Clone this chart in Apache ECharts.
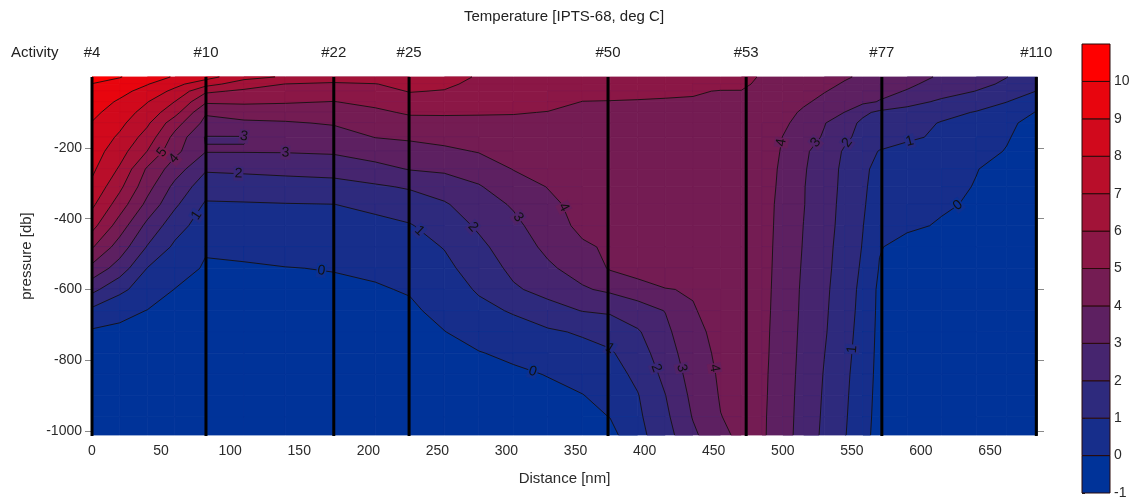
<!DOCTYPE html>
<html><head><meta charset="utf-8">
<script src="https://cdn.jsdelivr.net/npm/echarts@6/dist/echarts.min.js"></script>
<style>html,body{margin:0;padding:0;background:#fff}#c{width:1137px;height:500px}</style>
</head><body><div id="c"></div>
<script>
// ---------------- DATA ----------------
const stationNames = ['#4', '#10', '#22', '#25', '#50', '#53', '#77', '#110'];
const stationDist = [0, 82.5, 175, 229.5, 373.5, 473.5, 571.7, 683.5];
const distanceGrid = [0, 20, 40, 60, 82, 110, 140, 175, 205, 230, 255, 280, 305, 330, 355, 375, 395, 415, 435, 455, 470, 485, 500, 515, 530, 545, 558, 570, 590, 615, 640, 662, 684];
const pressureGrid = [0, 20, 40, 70, 100, 130, 170, 210, 260, 310, 360, 420, 480, 540, 600, 660, 720, 780, 840, 900, 960, 1011];
// temperature (deg C) per distance column, top to bottom at pressureGrid levels
const tempColumns = [
  [10.3, 9.98, 9.79, 9.5, 9.22, 8.96, 8.72, 8.49, 8.19, 7.79, 7.2, 6.34, 5.1, 3.71, 2.28, 0.76, -0.13, -0.41, -0.54, -0.58, -0.64, -0.7],
  [10.05, 9.65, 9.3, 8.87, 8.56, 8.25, 7.84, 7.42, 6.88, 6.23, 5.51, 4.52, 3.53, 2.55, 1.25, 0.24, -0.18, -0.42, -0.54, -0.58, -0.64, -0.7],
  [9.5, 9.05, 8.64, 8.04, 7.6, 7.17, 6.59, 5.98, 4.86, 4.36, 3.73, 2.72, 1.94, 0.98, 0.47, -0.02, -0.23, -0.43, -0.54, -0.58, -0.64, -0.7],
  [8.9, 8.3, 7.75, 6.98, 6.36, 5.43, 4.68, 4.26, 3.49, 2.72, 2.17, 1.42, 0.81, 0.41, -0.02, -0.15, -0.3, -0.45, -0.54, -0.58, -0.64, -0.7],
  [8.4, 7.37, 6.19, 5.16, 4.11, 3.73, 2.95, 3.05, 2.12, 1.44, 0.89, 0.49, 0.09, -0.09, -0.21, -0.33, -0.44, -0.56, -0.62, -0.65, -0.68, -0.7],
  [7.3, 6.5, 5.83, 5.17, 4.41, 3.84, 2.95, 3.05, 2.19, 1.49, 0.92, 0.54, 0.16, -0.07, -0.19, -0.3, -0.42, -0.54, -0.62, -0.65, -0.68, -0.7],
  [6.9, 5.98, 5.64, 5.09, 4.47, 3.91, 3.49, 3.06, 2.28, 1.56, 0.96, 0.62, 0.29, -0.02, -0.15, -0.29, -0.42, -0.55, -0.62, -0.65, -0.68, -0.7],
  [6.5, 5.86, 5.52, 4.98, 4.54, 4.08, 3.59, 3.13, 2.37, 1.64, 0.99, 0.67, 0.35, 0.03, -0.13, -0.27, -0.41, -0.55, -0.62, -0.65, -0.68, -0.7],
  [6.5, 5.97, 5.67, 5.22, 4.83, 4.48, 4.02, 3.46, 2.69, 1.87, 1.2, 0.77, 0.46, 0.15, -0.08, -0.24, -0.39, -0.55, -0.62, -0.65, -0.68, -0.7],
  [6.6, 6.3, 6.05, 5.6, 5.11, 4.7, 4.13, 3.64, 3.05, 2.1, 1.5, 0.93, 0.64, 0.36, 0.07, -0.15, -0.34, -0.54, -0.62, -0.65, -0.68, -0.7],
  [6.4, 6.2, 5.95, 5.5, 5.1, 4.76, 4.29, 3.81, 3.16, 2.48, 1.89, 1.46, 1.04, 0.77, 0.51, 0.26, -0.02, -0.2, -0.4, -0.6, -0.65, -0.7],
  [5.9, 5.73, 5.57, 5.32, 5.07, 4.8, 4.42, 4.05, 3.46, 2.92, 2.56, 2.14, 1.78, 1.44, 1.11, 0.74, 0.34, -0.04, -0.32, -0.6, -0.65, -0.7],
  [5.8, 5.65, 5.5, 5.27, 5.04, 4.84, 4.59, 4.34, 4.03, 3.57, 3.1, 2.77, 2.5, 2.23, 1.87, 1.09, 0.61, 0.17, -0.15, -0.4, -0.61, -0.7],
  [5.7, 5.55, 5.41, 5.18, 4.98, 4.84, 4.66, 4.48, 4.25, 4.03, 3.79, 3.5, 3.21, 2.85, 2.32, 1.63, 0.86, 0.44, 0.03, -0.2, -0.42, -0.6],
  [5.5, 5.35, 5.19, 4.99, 4.91, 4.84, 4.73, 4.63, 4.51, 4.38, 4.3, 4.25, 3.85, 3.39, 2.89, 2.03, 1.11, 0.68, 0.32, -0.03, -0.29, -0.5],
  [5.5, 5.33, 5.17, 4.98, 4.92, 4.86, 4.77, 4.69, 4.59, 4.49, 4.38, 4.26, 4.14, 4.09, 3.18, 2.13, 1.4, 0.88, 0.6, 0.31, 0.02, -0.3],
  [5.45, 5.29, 5.12, 4.97, 4.91, 4.85, 4.77, 4.7, 4.6, 4.5, 4.41, 4.4, 4.48, 4.5, 3.5, 2.57, 1.89, 1.56, 1.22, 0.95, 0.82, 0.7],
  [5.4, 5.24, 5.08, 4.96, 4.91, 4.85, 4.78, 4.71, 4.62, 4.52, 4.45, 4.5, 4.55, 4.6, 3.96, 3.03, 2.77, 2.52, 2.26, 1.98, 1.78, 1.6],
  [5.35, 5.19, 5.04, 4.96, 4.91, 4.86, 4.79, 4.72, 4.64, 4.55, 4.47, 4.37, 4.27, 4.17, 4.07, 3.94, 3.76, 3.59, 3.41, 3.24, 3.06, 2.8],
  [5.3, 5.15, 4.98, 4.97, 4.93, 4.9, 4.86, 4.82, 4.76, 4.71, 4.65, 4.59, 4.52, 4.46, 4.39, 4.33, 4.26, 4.2, 4.13, 4.07, 3.98, 3.8],
  [5.15, 5.07, 4.99, 4.95, 4.9, 4.86, 4.8, 4.75, 4.69, 4.63, 4.58, 4.52, 4.47, 4.42, 4.38, 4.34, 4.3, 4.27, 4.25, 4.23, 4.21, 4.2],
  [4.95, 4.92, 4.88, 4.83, 4.78, 4.73, 4.66, 4.6, 4.55, 4.5, 4.46, 4.42, 4.38, 4.35, 4.32, 4.29, 4.26, 4.24, 4.21, 4.19, 4.16, 4.15],
  [4.85, 4.8, 4.7, 4.55, 4.35, 4.2, 3.98, 3.9, 3.8, 3.75, 3.68, 3.66, 3.64, 3.62, 3.6, 3.58, 3.55, 3.52, 3.48, 3.45, 3.42, 3.4],
  [4.65, 4.55, 4.4, 4.15, 3.85, 3.6, 3.45, 3.2, 3.1, 3.05, 3.04, 2.99, 2.95, 2.9, 2.85, 2.82, 2.78, 2.74, 2.7, 2.66, 2.63, 2.6],
  [4.4, 4.25, 4.05, 3.75, 3.4, 3.05, 2.9, 2.5, 2.45, 2.4, 2.38, 2.35, 2.3, 2.25, 2.2, 2.15, 2.1, 2.02, 1.95, 1.9, 1.85, 1.8],
  [4.1, 3.9, 3.7, 3.45, 2.98, 2.4, 2.15, 1.9, 1.8, 1.78, 1.73, 1.68, 1.6, 1.55, 1.45, 1.4, 1.35, 1.28, 1.2, 1.15, 1.1, 1.05],
  [3.85, 3.65, 3.45, 3.2, 2.2, 1.8, 1.75, 1.4, 1.2, 1.15, 1.1, 1.02, 0.95, 0.85, 0.75, 0.7, 0.62, 0.55, 0.48, 0.41, 0.35, 0.3],
  [3.65, 3.45, 3.25, 2.95, 1.8, 1.6, 1.5, 0.95, 0.7, 0.6, 0.5, 0.35, 0.05, -0.05, -0.2, -0.22, -0.24, -0.26, -0.28, -0.3, -0.32, -0.35],
  [3.3, 3.15, 2.95, 2.4, 1.55, 1.3, 1.15, 0.7, 0.5, 0.4, 0.3, 0.15, -0.3, -0.4, -0.45, -0.5, -0.5, -0.5, -0.52, -0.54, -0.56, -0.58],
  [2.9, 2.7, 2.45, 1.8, 1.25, 0.95, 0.85, 0.45, 0.28, 0.18, 0.1, -0.08, -0.45, -0.5, -0.5, -0.52, -0.54, -0.55, -0.56, -0.58, -0.6, -0.6],
  [2.45, 2.25, 1.98, 1.4, 0.95, 0.6, 0.5, 0.2, 0.02, -0.03, -0.1, -0.3, -0.5, -0.55, -0.55, -0.56, -0.57, -0.58, -0.59, -0.6, -0.6, -0.6],
  [2.02, 1.85, 1.5, 1.02, 0.5, 0.15, 0.05, -0.03, -0.2, -0.25, -0.3, -0.45, -0.55, -0.55, -0.56, -0.57, -0.58, -0.59, -0.6, -0.6, -0.6, -0.6],
  [1.5, 1.25, 0.98, 0.35, -0.05, -0.25, -0.3, -0.35, -0.35, -0.4, -0.45, -0.5, -0.55, -0.6, -0.6, -0.6, -0.6, -0.6, -0.6, -0.6, -0.6, -0.6]
];
const colorLevels = [-1, 0, 1, 2, 3, 4, 5, 6, 7, 8, 9, 10];
const contourLevels = [0, 1, 2, 3, 4, 5, 6, 7, 8, 9, 10];
const xTickValues = [0, 50, 100, 150, 200, 250, 300, 350, 400, 450, 500, 550, 600, 650];
const yTickValues = [-1000, -800, -600, -400, -200];
// contour labels: [distance, pressure, isotherm]
const contourLabels = [
  [44, 213, 5], [58, 230, 4], [110, 166, 3], [140, 213, 3], [106, 269, 2], [71, 391, 1], [166, 546, 0],
  [237, 410, 1], [276, 424, 2], [306, 396, 3], [341, 368, 4], [319, 842, 0],
  [380, 766, 1], [410, 822, 2], [428, 822, 3], [449, 822, 4],
  [498, 185, 4], [523, 185, 3], [548, 185, 2], [592, 185, 1], [629, 362, 0], [542, 769, 1]
];
const xMax = 684, pMax = 1011;

// ---------------- RENDER ----------------
const FONT = '"Liberation Sans", Arial, Helvetica, sans-serif';
const LOW = [0, 51, 153], HIGH = [255, 0, 0];
function rampColor(t) { return 'rgb(' + LOW.map((c, m) => Math.round(c + (HIGH[m] - c) * t)).join(',') + ')'; }
const bandColors = colorLevels.map((l, k) => rampColor(k / (colorLevels.length - 1)));
function bandOf(v) { return Math.max(0, Math.min(colorLevels.length - 1, Math.floor(v) - colorLevels[0])); }

const NX = distanceGrid.length, NP = pressureGrid.length;
const cells = [];
for (let i = 0; i < NX - 1; i++) for (let j = 0; j < NP - 1; j++) cells.push([distanceGrid[i], -pressureGrid[j], i, j]);

function cellGeom(i, j, api) {
  const xA = distanceGrid[i], xB = distanceGrid[i + 1], pA = pressureGrid[j], pB = pressureGrid[j + 1];
  const pts = [[xA, pA], [xB, pA], [xB, pB], [xA, pB]].map(c => api.coord([c[0], -c[1]]));
  const vals = [tempColumns[i][j], tempColumns[i + 1][j], tempColumns[i + 1][j + 1], tempColumns[i][j + 1]];
  return { pts, vals };
}
function lerpPt(a, b, t) { return [a[0] + t * (b[0] - a[0]), a[1] + t * (b[1] - a[1])]; }
function clipPoly(pts, vals, L) {
  const out = [];
  for (let m = 0; m < 4; m++) {
    const n = (m + 1) % 4, a = vals[m] >= L, b = vals[n] >= L;
    if (a) out.push(pts[m]);
    if (a !== b) out.push(lerpPt(pts[m], pts[n], (L - vals[m]) / (vals[n] - vals[m])));
  }
  return out;
}
function renderFill(params, api) {
  const { pts, vals } = cellGeom(api.value(2), api.value(3), api);
  const b0 = bandOf(Math.min(...vals)), b1 = bandOf(Math.max(...vals));
  const children = [{ type: 'polygon', shape: { points: pts }, style: { fill: bandColors[b0], stroke: bandColors[b0], lineWidth: 0.8 }, silent: true }];
  for (let b = b0 + 1; b <= b1; b++) {
    const poly = clipPoly(pts, vals, colorLevels[b]);
    if (poly.length >= 3) children.push({ type: 'polygon', shape: { points: poly }, style: { fill: bandColors[b], stroke: bandColors[b], lineWidth: 0.8 }, silent: true });
  }
  return { type: 'group', children };
}
function renderLines(params, api) {
  const { pts, vals } = cellGeom(api.value(2), api.value(3), api);
  const vmin = Math.min(...vals), vmax = Math.max(...vals);
  const children = [];
  contourLevels.forEach(L => {
    if (!(vmin < L && vmax >= L)) return;
    const cr = [];
    for (let m = 0; m < 4; m++) {
      const n = (m + 1) % 4, a = vals[m] >= L, b = vals[n] >= L;
      if (a !== b) cr.push({ exit: a, p: lerpPt(pts[m], pts[n], (L - vals[m]) / (vals[n] - vals[m])) });
    }
    for (let q = 0; q < cr.length; q++) {
      if (!cr[q].exit) continue;
      const e = cr[(q + 1) % cr.length];
      children.push({ type: 'line', shape: { x1: cr[q].p[0], y1: cr[q].p[1], x2: e.p[0], y2: e.p[1] }, style: { stroke: '#121212', lineWidth: 0.9 }, silent: true });
    }
  });
  return { type: 'group', children };
}
function idxOf(arr, v) { let i = 0; while (i < arr.length - 2 && v > arr[i + 1]) i++; return i; }
function tempAt(x, p) {
  x = Math.max(0, Math.min(xMax, x)); p = Math.max(0, Math.min(pMax, p));
  const i = idxOf(distanceGrid, x), j = idxOf(pressureGrid, p);
  const tx = (x - distanceGrid[i]) / (distanceGrid[i + 1] - distanceGrid[i]);
  const ty = (p - pressureGrid[j]) / (pressureGrid[j + 1] - pressureGrid[j]);
  const c = tempColumns;
  return (1 - tx) * (1 - ty) * c[i][j] + tx * (1 - ty) * c[i + 1][j] + (1 - tx) * ty * c[i][j + 1] + tx * ty * c[i + 1][j + 1];
}
function snapLabel(x, p, L, sx, sy) {
  let best = [x, p], bestD = 1e9;
  for (let s = -150; s < 150; s += 1) {
    const p1 = p + s, p2 = p1 + 1;
    if (p1 < 0 || p2 > pMax) continue;
    const a = tempAt(x, p1) - L, b = tempAt(x, p2) - L;
    if (a === 0 || a * b < 0) { const pc = p1 + a / (a - b); const d = Math.abs(pc - p) * sy; if (d < bestD) { bestD = d; best = [x, pc]; } }
  }
  for (let s = -40; s < 40; s += 0.5) {
    const x1 = x + s, x2 = x1 + 0.5;
    if (x1 < 0 || x2 > xMax) continue;
    const a = tempAt(x1, p) - L, b = tempAt(x2, p) - L;
    if (a === 0 || a * b < 0) { const xc = x1 + 0.5 * a / (a - b); const d = Math.abs(xc - x) * sx; if (d < bestD) { bestD = d; best = [xc, p]; } }
  }
  return best;
}
function renderLabel(params, api) {
  const [x0, p0, L] = contourLabels[params.dataIndex];
  const o = api.coord([0, 0]);
  const sx = (api.coord([100, 0])[0] - o[0]) / 100, sy = (api.coord([0, -100])[1] - o[1]) / 100;
  const [x, p] = snapLabel(x0, p0, L, sx, sy);
  const c = api.coord([x, -p]);
  const gx = (tempAt(x + 2, p) - tempAt(x - 2, p)) / (4 * sx);
  const gy = (tempAt(x, p + 8) - tempAt(x, p - 8)) / (16 * sy);
  let ang = Math.atan2(-gx, -gy);
  if (ang > Math.PI / 2) ang -= Math.PI;
  if (ang < -Math.PI / 2) ang += Math.PI;
  const k = L - colorLevels[0];
  return {
    type: 'text', x: c[0], y: c[1], rotation: ang, silent: true,
    style: { text: String(L), font: '14px ' + FONT, fill: '#111', align: 'center', verticalAlign: 'middle',
      backgroundColor: rampColor((k - 0.5) / (colorLevels.length - 1)), padding: [0, 1] }
  };
}
function renderStation(params, api) {
  const d = api.value(0);
  const top = api.coord([d, 0]), bot = api.coord([d, -pMax]);
  return { type: 'group', children: [
    { type: 'line', shape: { x1: top[0], y1: top[1], x2: bot[0], y2: bot[1] + 1 }, style: { stroke: '#000', lineWidth: 3 } },
    { type: 'text', x: top[0], y: top[1] - 24, style: { text: stationNames[params.dataIndex], font: '15px ' + FONT, fill: '#222', align: 'center', verticalAlign: 'middle' } }
  ] };
}
function renderBar(params, api) {
  const l = api.value(1);
  const a = api.coord([0, l]), b = api.coord([1, l + 1]);
  return { type: 'rect', shape: { x: a[0], y: b[1], width: b[0] - a[0], height: a[1] - b[1] },
    style: { fill: bandColors[params.dataIndex], stroke: '#2a0a0a', lineWidth: 1 } };
}

const axisGray = '#8a8a8a';
const chart = echarts.init(document.getElementById('c'), null, { renderer: 'canvas' });
chart.setOption({
  animation: false,
  textStyle: { fontFamily: FONT },
  grid: [
    { left: 92, top: 77, width: 945, height: 358 },
    { left: 1082, top: 44, width: 28, height: 451 }
  ],
  graphic: [
    { type: 'text', x: 564, y: 17, style: { text: 'Temperature [IPTS-68, deg C]', font: '15px ' + FONT, fill: '#222', align: 'center', verticalAlign: 'middle', textAlign: 'center', textVerticalAlign: 'middle' } },
    { type: 'text', x: 11, y: 53, style: { text: 'Activity', font: '15px ' + FONT, fill: '#222', align: 'left', verticalAlign: 'middle', textAlign: 'left', textVerticalAlign: 'middle' } }
  ],
  xAxis: [
    { gridIndex: 0, type: 'value', min: 0, max: xMax, position: 'bottom',
      axisLine: { show: true, lineStyle: { color: axisGray } },
      axisTick: { show: true, length: 6, customValues: xTickValues, lineStyle: { color: axisGray } },
      axisLabel: { customValues: xTickValues, fontSize: 14, color: '#2a2a2a', margin: 9, fontFamily: FONT },
      splitLine: { show: false },
      name: 'Distance [nm]', nameLocation: 'middle', nameGap: 36, nameTextStyle: { fontSize: 15, color: '#2a2a2a', fontFamily: FONT } },
    { gridIndex: 1, type: 'value', min: 0, max: 1, show: false }
  ],
  yAxis: [
    { gridIndex: 0, type: 'value', min: -pMax, max: 0, position: 'left',
      axisLine: { show: true, lineStyle: { color: axisGray } },
      axisTick: { show: true, length: 7, customValues: yTickValues, lineStyle: { color: axisGray } },
      axisLabel: { customValues: yTickValues, fontSize: 14, color: '#2a2a2a', margin: 10, fontFamily: FONT, formatter: v => String(v) },
      splitLine: { show: false },
      name: 'pressure [db]', nameLocation: 'middle', nameGap: 58, nameRotate: 90, nameTextStyle: { fontSize: 15, color: '#2a2a2a', fontFamily: FONT } },
    { gridIndex: 0, type: 'value', min: -pMax, max: 0, position: 'right',
      axisLine: { show: true, lineStyle: { color: axisGray } },
      axisTick: { show: true, length: 7, customValues: yTickValues, lineStyle: { color: axisGray } },
      axisLabel: { show: false }, splitLine: { show: false } },
    { gridIndex: 1, type: 'value', min: -1, max: 11, position: 'right',
      axisLine: { show: false },
      axisTick: { show: true, length: 3, customValues: colorLevels, lineStyle: { color: '#222' } },
      axisLabel: { customValues: colorLevels, fontSize: 14, color: '#2a2a2a', margin: 4, fontFamily: FONT },
      splitLine: { show: false } }
  ],
  series: [
    { type: 'custom', xAxisIndex: 0, yAxisIndex: 0, data: cells, encode: { x: 0, y: 1 }, renderItem: renderFill, progressive: 0, z: 1, silent: true },
    { type: 'custom', xAxisIndex: 0, yAxisIndex: 0, data: cells, encode: { x: 0, y: 1 }, renderItem: renderLines, progressive: 0, z: 2, silent: true },
    { type: 'custom', xAxisIndex: 0, yAxisIndex: 0, data: stationDist.map(d => [d, 0]), renderItem: renderStation, z: 4, silent: true, clip: false },
    { type: 'custom', xAxisIndex: 0, yAxisIndex: 0, data: contourLabels.map(r => [r[0], -r[1]]), renderItem: renderLabel, z: 3, silent: true },
    { type: 'custom', xAxisIndex: 1, yAxisIndex: 2, data: colorLevels.map(l => [0, l]), renderItem: renderBar, z: 2, silent: true }
  ]
});
</script>
</body></html>
